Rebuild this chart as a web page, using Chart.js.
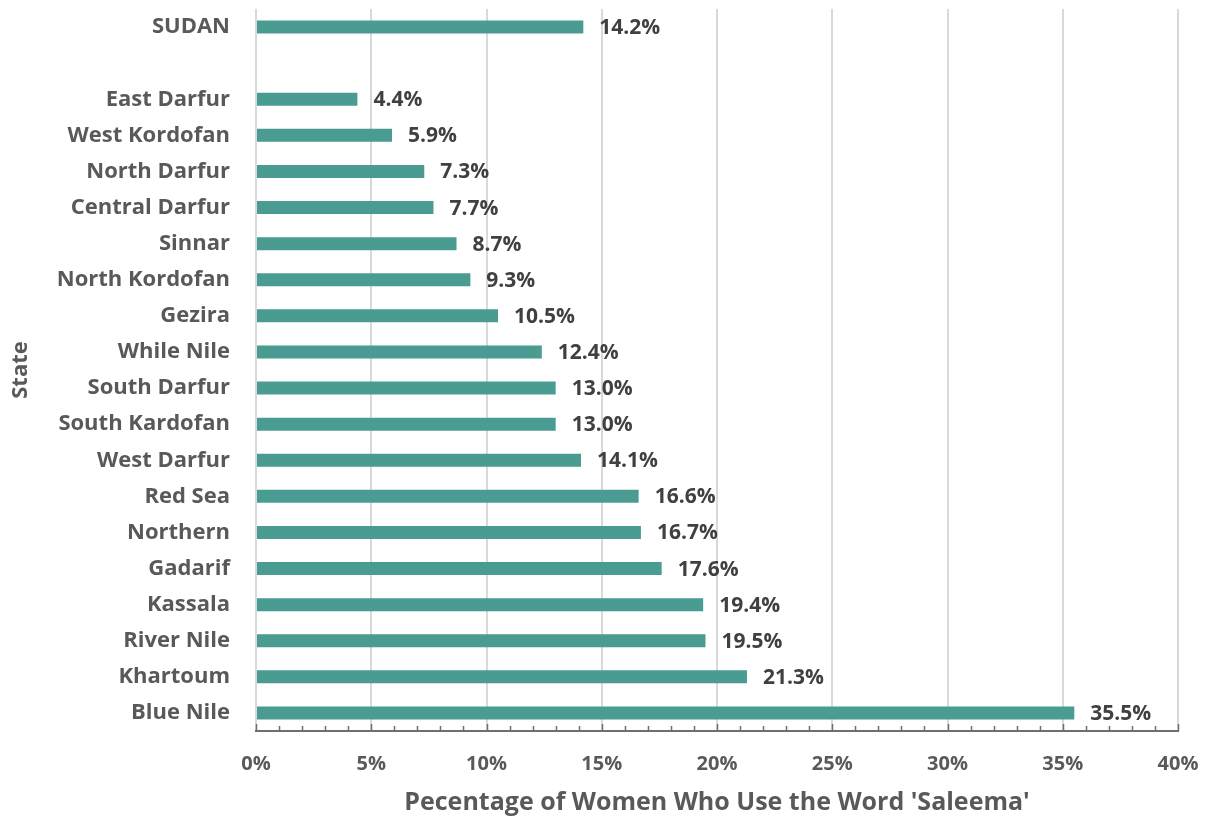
<!DOCTYPE html>
<html>
<head>
<meta charset="utf-8">
<script src="https://cdn.jsdelivr.net/npm/chart.js@4"></script>
<style>
html,body{margin:0;padding:0;background:#fff;}
#wrap{width:1205px;height:818px;}
</style>
</head>
<body>
<div id="wrap"><canvas id="c" width="1205" height="818"></canvas></div>
<script>
const categories = ["SUDAN", "", "East Darfur", "West Kordofan", "North Darfur", "Central Darfur", "Sinnar", "North Kordofan", "Gezira", "While Nile", "South Darfur", "South Kardofan", "West Darfur", "Red Sea", "Northern", "Gadarif", "Kassala", "River Nile", "Khartoum", "Blue Nile"];
const values = [14.2, null, 4.4, 5.9, 7.3, 7.7, 8.7, 9.3, 10.5, 12.4, 13.0, 13.0, 14.1, 16.6, 16.7, 17.6, 19.4, 19.5, 21.3, 35.5];
const xTicks = [0, 5, 10, 15, 20, 25, 30, 35, 40];
const xTitle = "Pecentage of Women Who Use the Word 'Saleema'";
const yTitle = "State";

const FONT = "'Open Sans', sans-serif";

const labelPlugin = {
  id: 'valueLabels',
  afterDatasetsDraw(chart) {
    const ctx = chart.ctx;
    const meta = chart.getDatasetMeta(0);
    ctx.save();
    ctx.font = "bold 21px " + FONT;
    ctx.fillStyle = "#404040";
    ctx.textAlign = "left";
    ctx.textBaseline = "middle";
    meta.data.forEach((bar, i) => {
      const v = values[i];
      if (v === null || v === undefined) return;
      ctx.fillText(v.toFixed(1) + "%", bar.x + 16, bar.y + 1);
    });
    ctx.restore();
  }
};

const minorTicks = {
  id: 'minorTicks',
  afterDraw(chart) {
    const ctx = chart.ctx;
    const xs = chart.scales.x;
    const yb = chart.chartArea.bottom;
    ctx.save();
    ctx.strokeStyle = "#6f6f6f";
    ctx.lineWidth = 1.5;
    ctx.beginPath();
    for (let v = xs.min; v <= xs.max + 1e-9; v += 1) {
      const px = Math.round(xs.getPixelForValue(v)) + 0.5;
      const len = (Math.abs(v % 5) < 1e-9) ? 7 : 5;
      ctx.moveTo(px, yb);
      ctx.lineTo(px, yb - len);
    }
    ctx.stroke();
    ctx.restore();
  }
};

new Chart(document.getElementById('c'), {
  type: 'bar',
  data: {
    labels: categories,
    datasets: [{
      data: values,
      backgroundColor: '#4A9B92',
      borderWidth: 0,
      barPercentage: 0.72,
      categoryPercentage: 0.5
    }]
  },
  plugins: [labelPlugin, minorTicks],
  options: {
    indexAxis: 'y',
    responsive: false,
    animation: false,
    devicePixelRatio: 1,
    layout: { padding: { left: 0, right: 27, top: 9, bottom: 0 } },
    plugins: { legend: { display: false }, tooltip: { enabled: false } },
    scales: {
      x: {
        type: 'linear',
        min: 0,
        max: 40,
        afterBuildTicks(scale) { scale.ticks = xTicks.map(v => ({ value: v })); },
        afterFit(scale) { scale.height = 87; scale.paddingLeft = 0; scale.paddingRight = 0; },
        grid: { color: '#d9d9d9', lineWidth: 2, drawTicks: false },
        border: { display: true, color: '#6f6f6f', width: 2 },
        ticks: {
          padding: 21,
          color: '#595959',
          font: { family: FONT, size: 20, weight: 'bold' },
          callback: v => v + '%',
          maxRotation: 0
        },
        title: {
          display: true,
          text: xTitle,
          color: '#595959',
          font: { family: FONT, size: 25, weight: 'bold' },
          padding: { top: 0, bottom: 0 }
        }
      },
      y: {
        type: 'category',
        afterFit(scale) { scale.width = 256; scale.paddingTop = 0; scale.paddingBottom = 0; },
        grid: { display: false, drawTicks: false },
        border: { display: false },
        ticks: {
          padding: 26,
          color: '#595959',
          font: { family: FONT, size: 22, weight: 'bold' },
          autoSkip: false
        },
        title: {
          display: true,
          text: yTitle,
          color: '#595959',
          font: { family: FONT, size: 22, weight: 'bold' },
          padding: { top: 8, bottom: 0 }
        }
      }
    }
  }
});
</script>
</body>
</html>
